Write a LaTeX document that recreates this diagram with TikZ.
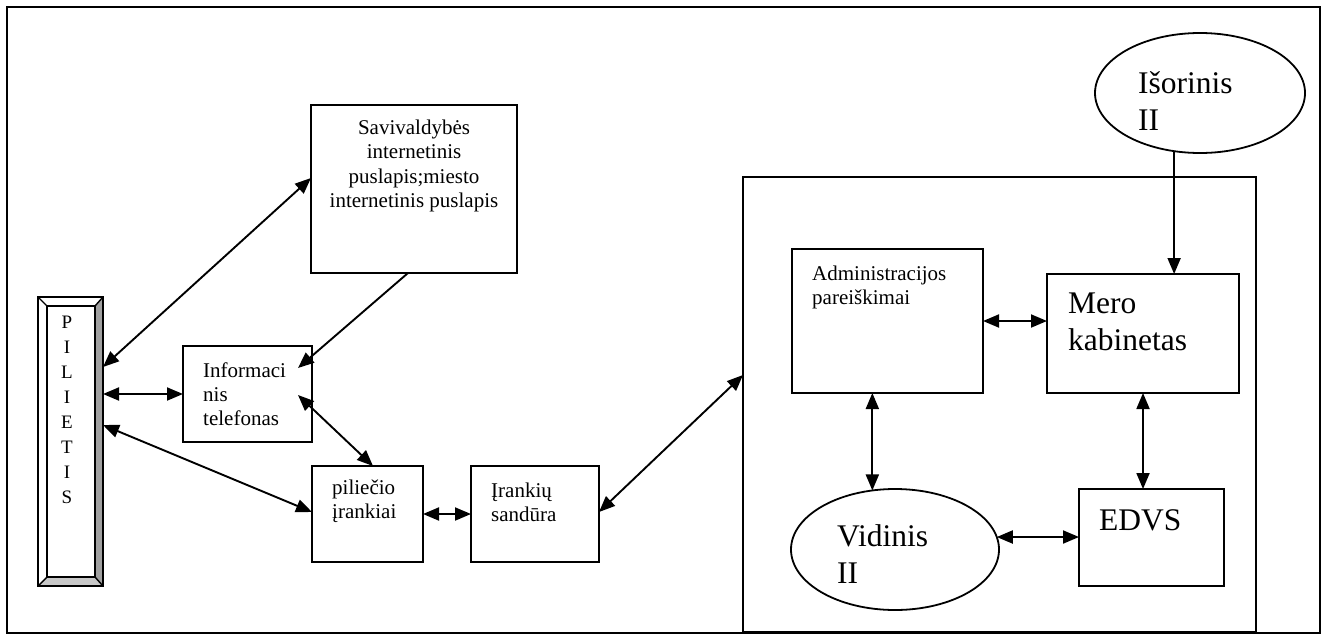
\documentclass[tikz,border=0pt]{standalone}
\usepackage{fontspec}
\setmainfont{Liberation Serif}
\usetikzlibrary{arrows.meta,shapes.geometric,calc}
\definecolor{bevdark}{HTML}{A0A0A0}
\definecolor{bevlight}{HTML}{C8C8C8}
\begin{document}
\begin{tikzpicture}[x=1pt,y=-1pt,
  boxnode/.style={draw,line width=2pt,inner sep=0,outer sep=0},
  ellnode/.style={draw,ellipse,line width=1.8pt,inner sep=0,outer sep=0},
  smalltxt/.style={font=\fontsize{21}{24}\selectfont,inner sep=0,align=left,anchor=west},
  bigtxt/.style={font=\fontsize{31.5}{37}\selectfont,inner sep=0,align=left,anchor=west},
  biarrow/.style={line width=1.9pt,{Triangle[length=16pt,width=13pt]}-{Triangle[length=16pt,width=13pt]}},
  onearrow/.style={line width=1.9pt,-{Triangle[length=16pt,width=13pt]}}]
\useasboundingbox (0,0) rectangle (1324,635);

% outer frame
\draw[line width=2pt] (7,7) rectangle (1320,633);

% citizen column with bevelled edge
\node[inner sep=0,outer sep=0,minimum width=65,minimum height=289] (pil) at (70.5,441.5) {};
\coordinate (pa) at ($(pil.north west)+(9,9)$);
\coordinate (pb) at ($(pil.north east)+(-8,9)$);
\coordinate (pc) at ($(pil.south east)+(-8,-9)$);
\coordinate (pd) at ($(pil.south west)+(9,-9)$);
\fill[white] (pil.north west) -- (pil.north east) -- (pb) -- (pa) -- cycle;
\fill[white] (pil.north west) -- (pa) -- (pd) -- (pil.south west) -- cycle;
\fill[bevdark] (pil.north east) -- (pil.south east) -- (pc) -- (pb) -- cycle;
\fill[bevlight] (pil.south west) -- (pd) -- (pc) -- (pil.south east) -- cycle;
\draw[line width=1.8pt] (pil.north west) rectangle (pil.south east);
\draw[line width=1.8pt] (pa) rectangle (pc);
\draw[line width=1.4pt] (pil.north west) -- (pa) (pil.north east) -- (pb)
  (pil.south east) -- (pc) (pil.south west) -- (pd);
\node[font=\fontsize{19}{24.9}\selectfont,align=center,inner sep=0] (pilt) at (67,410)
  {P\\I\\L\\I\\E\\T\\I\\S};

% boxes
\node[boxnode,minimum width=206,minimum height=168] (sav) at (414,189) {};
\node[boxnode,minimum width=129,minimum height=96] (inf) at (247.5,394) {};
\node[boxnode,minimum width=111,minimum height=96] (pli) at (367.5,514) {};
\node[boxnode,minimum width=128,minimum height=96] (irs) at (535,514) {};
\node[boxnode,line width=1.8pt,minimum width=513,minimum height=455] (big) at (999.5,404.5) {};
\node[boxnode,minimum width=191,minimum height=144] (adm) at (887.5,321) {};
\node[boxnode,minimum width=192,minimum height=119] (mero) at (1143,333.5) {};
\node[boxnode,minimum width=145,minimum height=97] (edvs) at (1151.5,537.5) {};
\node[ellnode,minimum width=210,minimum height=120] (isor) at (1200,93) {};
\node[ellnode,minimum width=208,minimum height=121] (vid) at (895,549.5) {};

% texts
\node[font=\fontsize{21}{24.3}\selectfont,inner sep=0,align=center] (savt) at (414,166)
  {Savivaldybės\\internetinis\\puslapis;miesto\\internetinis puslapis};
\node[smalltxt] (inft) at (203,394) {Informaci\\nis\\telefonas};
\node[smalltxt] (plit) at (332,501) {piliečio\\įrankiai};
\node[smalltxt] (irst) at (491,502) {Įrankių\\sandūra};
\node[smalltxt] (admt) at (812,287) {Administracijos\\pareiškimai};
\node[bigtxt] (merot) at (1068,322) {Mero\\kabinetas};
\node[bigtxt] (isort) at (1138,101) {Išorinis\\II};
\node[bigtxt] (vidt) at (837,554) {Vidinis\\II};
\node[bigtxt] (edvst) at (1099,520) {EDVS};

% connectors
\draw[biarrow] ($(pil.north east)+(0,70)$) -- ($(sav.north west)+(0,73)$);
\draw[biarrow] (pil.east |- inf.west) -- (inf.west);
\draw[biarrow] ($(pil.north east)+(0,128)$) -- ($(pli.west)+(0,-2)$);
\draw[onearrow] ($(sav.south west)+(97,0)$) -- ($(inf.north east)+(-14,22)$);
\draw[biarrow] ($(inf.north east)+(-14,49)$) -- ($(pli.north west)+(61,0)$);
\draw[biarrow] (pli.east) -- (irs.west);
\draw[biarrow] ($(irs.east)+(0,-2)$) -- ($(big.north west)+(0,198)$);
\draw[biarrow] (adm.east) -- (adm.east -| mero.west);
\draw[biarrow] (vid.111.3 |- adm.south) -- (vid.111.3);
\draw[biarrow] (mero.south) -- (mero.south |- edvs.north);
\draw[biarrow] (vid.7) -- (vid.7 -| edvs.west);
\draw[onearrow] (isor.246.8) -- (isor.246.8 |- mero.north);
\end{tikzpicture}
\end{document}
